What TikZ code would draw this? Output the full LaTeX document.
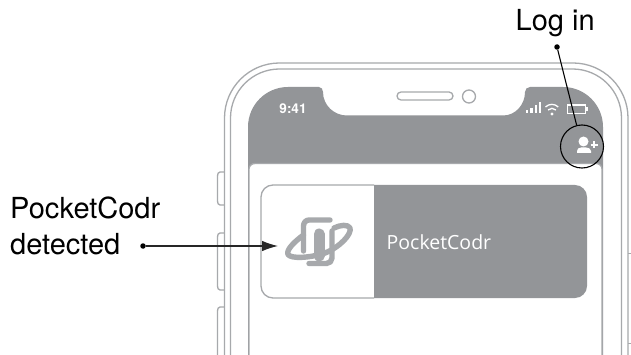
\documentclass[tikz,border=0pt]{standalone}
\usepackage{fontspec}
\setmainfont{TeX Gyre Heros}
\newfontfamily\appfont{Open Sans}
\usetikzlibrary{arrows.meta}
\definecolor{screengray}{HTML}{939598}
\definecolor{framegray}{HTML}{A7A9AC}
\tikzset{
  frameline/.style={draw=framegray,line width=1.3pt},
  iconline/.style={draw=framegray,line width=5.4pt,line cap=round,line join=round},
  calloutdot/.style={circle,fill=black,inner sep=0pt,minimum size=5.5pt},
  callouttext/.style={font=\fontsize{29}{35.5}\selectfont,align=left,inner sep=0pt,text=black},
}
\begin{document}
\begin{tikzpicture}[x=1pt,y=-1pt,>=stealth]
	\useasboundingbox (0,0) rectangle (631,355);
	\fill[white] (0,0) rectangle (631,355);
	% side buttons
	\draw[frameline] (224,172) -- (220,172) to[out=180,in=90] (217.5,176) -- (217.5,201) to[out=-90,in=180] (220,205) -- (224,205);
	\draw[frameline] (224,233) -- (220,233) to[out=180,in=90] (217.5,237) -- (217.5,286) to[out=-90,in=180] (220,290) -- (224,290);
	\draw[frameline] (224,307) -- (220,307) to[out=180,in=90] (217.5,311) -- (217.5,355);
	\draw[frameline,line width=.7pt] (628,253) -- (631,253) (628,343) -- (631,343);
	% phone body
	\draw[frameline] (224.5,355) -- (224.5,118) arc[start angle=180,end angle=270,radius=55] -- (573,63) arc[start angle=270,end angle=360,radius=55] -- (628,355);
	\draw[frameline] (230.5,355) -- (230.5,118) arc[start angle=180,end angle=270,radius=49] -- (572.5,69) arc[start angle=270,end angle=360,radius=49] -- (621.5,355);
	% screen
	\fill[screengray] (248,355) -- (248,127) arc[start angle=180,end angle=270,radius=40] -- (319,87)
		to[out=0,in=90] (323,92) to[out=-90,in=180] (347,115.5) -- (503,115.5)
		to[out=0,in=-90] (525,92) to[out=90,in=180] (530,87) -- (563,87) arc[start angle=270,end angle=360,radius=40] -- (603,355) -- cycle;
	\fill[white,draw=framegray,line width=1.3pt] (249,356) -- (249,169) to[out=90,in=180] (255,163.5) -- (596,163.5) to[out=0,in=90] (602,169) -- (602,356);
	% speaker and camera
	\draw[frameline,rounded corners=4pt] (397,92) rectangle (453,100);
	\node[circle,frameline,minimum size=13pt,inner sep=0pt] (camera) at (469,96.5) {};
	% status bar
	\node[text=white,font=\fontsize{13.5}{14}\bfseries\selectfont,inner sep=0pt] (clock) at (293,109) {9:41};
	\foreach \x/\h in {525.5/3,530/5,534.5/8,538.5/11}
		\fill[white] (\x,113.5) rectangle ++(2.8,-\h);
	\draw[white,line width=1.3pt] (545.5,107) arc[start angle=-135,end angle=-45,radius=9];
	\draw[white,line width=1.3pt] (548,110) arc[start angle=-135,end angle=-45,radius=5.6];
	\fill[white] (552,114) circle (1.7);
	\draw[white,line width=1.2pt] (567.5,105) rectangle (585.5,113.5);
	\fill[white] (586,107.5) rectangle (588,111);
	% add user icon
	\fill[white] (583.5,141.5) circle (5);
	\fill[white] (577,153) -- (577,151) to[out=90,in=180] (581,147.5) -- (586,147.5) to[out=0,in=90] (591,151) -- (591,153) -- cycle;
	\draw[white,line width=1.5pt] (590.5,145) -- (597.5,145) (594,141.5) -- (594,148.5);
	% card
	\fill[screengray] (374,185) -- (575,185) arc[start angle=270,end angle=360,radius=12] -- (587,286) arc[start angle=0,end angle=90,radius=12] -- (374,298) -- cycle;
	\draw[frameline] (374,298) -- (273,298) arc[start angle=90,end angle=180,radius=12] -- (261,197) arc[start angle=180,end angle=270,radius=12] -- (374,185);
	\node[text=white,anchor=base west,inner sep=0pt,font=\appfont\fontsize{19.5}{22}\selectfont] (cardname) at (386.5,249.5) {PocketCodr};
	% logo
	\draw[iconline] (330,220) -- (309,220) to[out=180,in=90] (303.5,226) -- (303.5,251);
	\draw[iconline] (332,231) -- (332,258) to[out=-90,in=0] (326.5,263.5) -- (309,263.5);
	\draw[iconline,line width=11pt] (319,256) -- (319,234);
	\draw[iconline] (303.5,235) .. controls (294,242) and (286,250) .. (288,254.5) .. controls (291,259) and (310,258) .. (325,253) .. controls (340,247) and (352,234) .. (350,228) .. controls (348,224) and (340,225) .. (334,228);
	% callouts
	\node[callouttext,anchor=base west] (login) at (515.5,31) {Log in};
	\node[calloutdot] (logindot) at (557,47) {};
	\node[circle,draw=black,line width=1.1pt,minimum size=43pt,inner sep=0pt] (usercircle) at (582,146.5) {};
	\draw[line width=1.1pt] (logindot) -- (usercircle);
	\node[callouttext,anchor=north west] (detected) at (10,197) {PocketCodr\\detected};
	\node[calloutdot] (detectdot) at (143,246) {};
	\coordinate (logotip) at (278,246);
	\draw[-{Latex[length=16pt,width=10.5pt]},line width=1.1pt,color=black!85] (detectdot) -- (logotip);
\end{tikzpicture}
\end{document}
